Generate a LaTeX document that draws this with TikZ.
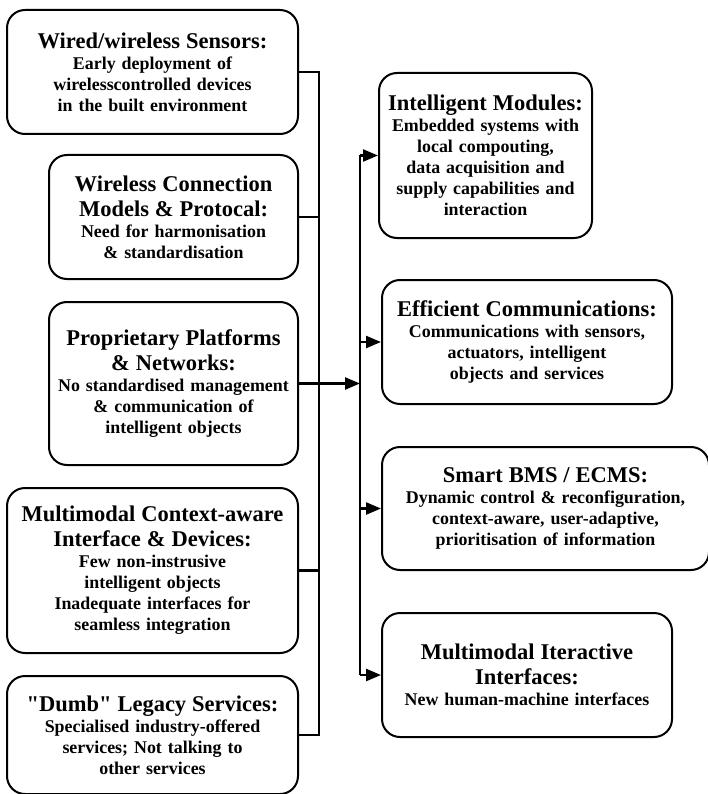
\documentclass[tikz,border=0pt]{standalone}
\usepackage{fontspec}
\setmainfont{Liberation Serif}[Ligatures=TeXOff]
\usetikzlibrary{arrows.meta}
\newcommand\boxhead{\fontsize{22.5}{25}\selectfont}
\newcommand\boxtext{\fontsize{17.9}{21}\selectfont}
\begin{document}
\begin{tikzpicture}[x=1pt,y=-1pt,
	box/.style={draw,line width=2pt,rounded corners=18pt,align=center,inner xsep=4pt,inner ysep=0pt,font=\boxtext\bfseries},
	link/.style={line width=2.4pt},
	>={Triangle[length=15pt,width=12pt]}]
	\useasboundingbox (0,0) rectangle (708,794);
	% problems (left column)
	\node[box,text width=283,minimum height=124] (wired) at (152.5,72) {{\boxhead Wired/wireless Sensors:\par}Early deployment of\\ wirelesscontrolled devices\\ in the built environment};
	\node[box,text width=241,minimum height=124] (wconn) at (173.5,217) {{\boxhead Wireless Connection\\ Models \& Protocal:\par}Need for harmonisation\\ \& standardisation};
	\node[box,text width=241,minimum height=163] (prop) at (173.5,383.5) {{\boxhead Proprietary Platforms\\ \& Networks:\par}No standardised management\\ \& communication of\\ intelligent objects};
	\node[box,text width=283,minimum height=165] (mmctx) at (152.5,570.5) {{\boxhead Multimodal Context-aware\\ Interface \& Devices:\par}Few non-instrusive\\ intelligent objects\\ Inadequate interfaces for\\ seamless integration};
	\node[box,text width=283,minimum height=118] (dumb) at (152.5,735) {{\boxhead "Dumb" Legacy Services:\par}Specialised industry-offered\\ services; Not talking to\\ other services};
	% solutions (right column)
	\node[box,text width=205,minimum height=165] (intel) at (485.5,155.5) {{\boxhead Intelligent Modules:\par}Embedded systems with\\ local compouting,\\ data acquisition and\\ supply capabilities and\\ interaction};
	\node[box,text width=282,minimum height=124] (effic) at (527,342) {{\boxhead Efficient Communications:\par}Communications with sensors,\\ actuators, intelligent\\ objects and services};
	\node[box,text width=319,minimum height=123] (smart) at (545.5,508.5) {{\boxhead Smart BMS / ECMS:\par}Dynamic control \& reconfiguration,\\ context-aware, user-adaptive,\\ prioritisation of information};
	\node[box,text width=282,minimum height=124] (mmint) at (527,675) {{\boxhead Multimodal Iteractive\\ Interfaces:\par}New human-machine interfaces};
	% buses
	\coordinate (lbus) at (319,0);
	\coordinate (rbus) at (360,0);
	\draw[link] (wired.east) -| (lbus |- dumb.east) -- (dumb.east);
	\draw[link] (wconn.east) -- (wconn.east -| lbus);
	\draw[link] (mmctx.east) -- (mmctx.east -| lbus);
	\draw[link,->] (prop.east) -- (prop.east -| rbus);
	\draw[link] (intel.west -| rbus) -- (mmint.west -| rbus);
	\draw[link,->] (intel.west -| rbus) -- (intel.west);
	\draw[link,->] (effic.west -| rbus) -- (effic.west);
	\draw[link,->] (smart.west -| rbus) -- (smart.west);
	\draw[link,->] (mmint.west -| rbus) -- (mmint.west);
\end{tikzpicture}
\end{document}
